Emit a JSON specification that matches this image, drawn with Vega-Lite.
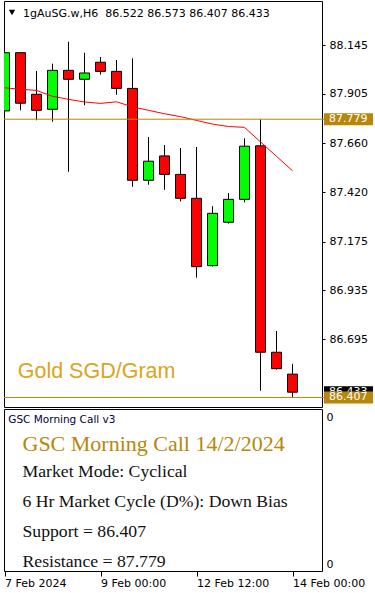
{
  "$schema": "https://vega.github.io/schema/vega-lite/v6.json",
  "padding": {"left": 3, "top": 0, "right": 0, "bottom": 0},
  "background": "white",
  "spacing": 0,
  "config": {
    "view": {"stroke": "black", "strokeWidth": 1},
    "axis": {"labelFont": "DejaVu Sans", "labelFontSize": 11, "labelColor": "black", "tickColor": "black", "domain": false, "grid": false}
  },
  "datasets": {
    "candles": [
      {"i": 0, "time": "2024-02-07 12:00", "open": 87.820, "high": 88.249, "low": 87.700, "close": 88.107, "ma": 87.934},
      {"i": 1, "time": "2024-02-07 18:00", "open": 88.107, "high": 88.110, "low": 87.823, "close": 87.858, "ma": 87.927},
      {"i": 2, "time": "2024-02-08 00:00", "open": 87.902, "high": 88.017, "low": 87.774, "close": 87.823, "ma": 87.921},
      {"i": 3, "time": "2024-02-08 06:00", "open": 87.828, "high": 88.053, "low": 87.767, "close": 88.020, "ma": 87.892},
      {"i": 4, "time": "2024-02-08 12:00", "open": 88.020, "high": 88.161, "low": 87.520, "close": 87.976, "ma": 87.877},
      {"i": 5, "time": "2024-02-08 18:00", "open": 87.976, "high": 88.107, "low": 87.848, "close": 88.007, "ma": 87.864},
      {"i": 6, "time": "2024-02-09 00:00", "open": 88.060, "high": 88.086, "low": 87.999, "close": 88.015, "ma": 87.857},
      {"i": 7, "time": "2024-02-09 06:00", "open": 88.015, "high": 88.071, "low": 87.900, "close": 87.931, "ma": 87.865},
      {"i": 8, "time": "2024-02-09 12:00", "open": 87.931, "high": 88.079, "low": 87.446, "close": 87.478, "ma": 87.840},
      {"i": 9, "time": "2024-02-09 18:00", "open": 87.478, "high": 87.691, "low": 87.456, "close": 87.572, "ma": 87.823},
      {"i": 10, "time": "2024-02-12 00:00", "open": 87.598, "high": 87.652, "low": 87.431, "close": 87.507, "ma": 87.806},
      {"i": 11, "time": "2024-02-12 06:00", "open": 87.507, "high": 87.637, "low": 87.374, "close": 87.389, "ma": 87.792},
      {"i": 12, "time": "2024-02-12 12:00", "open": 87.389, "high": 87.642, "low": 86.998, "close": 87.052, "ma": 87.773},
      {"i": 13, "time": "2024-02-12 18:00", "open": 87.057, "high": 87.350, "low": 87.052, "close": 87.315, "ma": 87.755},
      {"i": 14, "time": "2024-02-13 00:00", "open": 87.271, "high": 87.415, "low": 87.264, "close": 87.384, "ma": 87.743},
      {"i": 15, "time": "2024-02-13 06:00", "open": 87.384, "high": 87.685, "low": 87.369, "close": 87.646, "ma": 87.739},
      {"i": 16, "time": "2024-02-13 12:00", "open": 87.648, "high": 87.779, "low": 86.440, "close": 86.630, "ma": 87.667},
      {"i": 17, "time": "2024-02-13 18:00", "open": 86.630, "high": 86.735, "low": 86.544, "close": 86.549, "ma": 87.596},
      {"i": 18, "time": "2024-02-14 00:00", "open": 86.522, "high": 86.573, "low": 86.407, "close": 86.433, "ma": 87.525}
    ],
    "levels": [
      {"name": "Last", "price": 86.433},
      {"name": "Resistance", "price": 87.779},
      {"name": "Support", "price": 86.407}
    ],
    "notes": [
      {"id": "symbol", "text": "1gAuSG.w,H6\u00a0 86.522 86.573 86.407 86.433"},
      {"id": "asset", "text": "Gold SGD/Gram"},
      {"id": "indicator", "text": "GSC Morning Call v3"},
      {"id": "title", "text": "GSC Morning Call 14/2/2024"},
      {"id": "mode", "text": "Market Mode: Cyclical"},
      {"id": "cycle", "text": "6 Hr Market Cycle (D%): Down Bias"},
      {"id": "support", "text": "Support = 86.407"},
      {"id": "resistance", "text": "Resistance = 87.779"}
    ]
  },
  "vconcat": [
    {
      "width": 318,
      "height": 406,
      "layer": [
        {
          "data": {"name": "candles"},
          "mark": {"type": "rule", "color": "black", "strokeWidth": 1, "clip": true},
          "encoding": {
            "x": {"field": "i", "type": "quantitative", "scale": {"domain": [-0.03125, 19.84375], "nice": false, "zero": false, "padding": 0}, "axis": null},
            "y": {"field": "low", "type": "quantitative", "scale": {"domain": [86.36, 88.362], "nice": false, "zero": false, "padding": 0},
                  "axis": {"orient": "right", "title": null, "values": [88.145, 87.905, 87.66, 87.42, 87.175, 86.935, 86.695], "format": ".3f", "tickSize": 3, "labelPadding": 4, "labelBaseline": "middle"}},
            "y2": {"field": "high"}
          }
        },
        {
          "data": {"name": "candles"},
          "mark": {"type": "bar", "stroke": "black", "strokeWidth": 1, "clip": true},
          "encoding": {
            "x": {"field": "i", "type": "quantitative"},
            "y": {"field": "open", "type": "quantitative"},
            "y2": {"field": "close"},
            "size": {"value": 10},
            "fill": {"condition": {"test": "datum.close > datum.open", "value": "#00ff00"}, "value": "#ff0000"}
          }
        },
        {
          "data": {"name": "candles"},
          "mark": {"type": "line", "color": "#ff0000", "strokeWidth": 1, "clip": true},
          "encoding": {
            "x": {"field": "i", "type": "quantitative"},
            "y": {"field": "ma", "type": "quantitative"}
          }
        },
        {
          "data": {"name": "levels"},
          "transform": [{"filter": "datum.name != 'Last'"}],
          "mark": {"type": "rule", "color": "#b8860b", "strokeWidth": 1},
          "encoding": {
            "y": {"field": "price", "type": "quantitative"},
            "x": {"datum": -0.03125, "type": "quantitative"},
            "x2": {"datum": 19.97}
          }
        },
        {
          "data": {"name": "levels"},
          "transform": [{"filter": "datum.name == 'Last'"}],
          "mark": {"type": "bar", "fill": "black"},
          "encoding": {
            "y": {"field": "price", "type": "quantitative"},
            "x": {"datum": 19.969, "type": "quantitative"},
            "x2": {"datum": 23.03},
            "size": {"value": 12}
          }
        },
        {
          "data": {"name": "levels"},
          "transform": [{"filter": "datum.name == 'Last'"}],
          "mark": {"type": "text", "align": "left", "baseline": "middle", "dx": 5, "font": "DejaVu Sans", "fontSize": 11, "color": "white"},
          "encoding": {
            "y": {"field": "price", "type": "quantitative"},
            "x": {"datum": 19.969, "type": "quantitative"},
            "text": {"field": "price", "type": "quantitative", "format": ".3f"}
          }
        },
        {
          "data": {"name": "levels"},
          "transform": [{"filter": "datum.name != 'Last'"}],
          "mark": {"type": "bar", "fill": "#b8860b"},
          "encoding": {
            "y": {"field": "price", "type": "quantitative"},
            "x": {"datum": 19.969, "type": "quantitative"},
            "x2": {"datum": 23.03},
            "size": {"value": 12}
          }
        },
        {
          "data": {"name": "levels"},
          "transform": [{"filter": "datum.name != 'Last'"}],
          "mark": {"type": "text", "align": "left", "baseline": "middle", "dx": 5, "font": "DejaVu Sans", "fontSize": 11, "color": "white"},
          "encoding": {
            "y": {"field": "price", "type": "quantitative"},
            "x": {"datum": 19.969, "type": "quantitative"},
            "text": {"field": "price", "type": "quantitative", "format": ".3f"}
          }
        },
        {
          "data": {"name": "notes"},
          "transform": [{"filter": "datum.id == 'symbol'"}],
          "mark": {"type": "point", "shape": "triangle-down", "filled": true, "color": "black", "size": 40, "opacity": 1},
          "encoding": {
            "x": {"datum": 0.469, "type": "quantitative"},
            "y": {"datum": 88.305, "type": "quantitative"}
          }
        },
        {
          "data": {"name": "notes"},
          "transform": [{"filter": "datum.id == 'symbol'"}],
          "mark": {"type": "text", "align": "left", "baseline": "alphabetic", "font": "DejaVu Sans", "fontSize": 11, "color": "black"},
          "encoding": {
            "x": {"datum": 1.156, "type": "quantitative"},
            "y": {"datum": 88.283, "type": "quantitative"},
            "text": {"field": "text"}
          }
        },
        {
          "data": {"name": "notes"},
          "transform": [{"filter": "datum.id == 'asset'"}],
          "mark": {"type": "text", "align": "left", "baseline": "alphabetic", "font": "Liberation Sans", "fontSize": 21.5, "color": "#daa520"},
          "encoding": {
            "x": {"datum": 0.825, "type": "quantitative"},
            "y": {"datum": 86.503, "type": "quantitative"},
            "text": {"field": "text"}
          }
        }
      ]
    },
    {
      "width": 318,
      "height": 162,
      "layer": [
        {
          "data": {"name": "notes"},
          "transform": [{"filter": "datum.id == 'indicator'"}],
          "mark": {"type": "text", "align": "left", "baseline": "alphabetic", "font": "DejaVu Sans", "fontSize": 10.5, "color": "#000040"},
          "encoding": {
            "x": {"datum": 0.238, "type": "quantitative", "scale": {"domain": [-0.03125, 19.84375], "nice": false, "zero": false, "padding": 0},
                  "axis": {"title": null, "values": [0, 6, 12, 18], "labelExpr": "datum.value == 0 ? '7 Feb 2024' : datum.value == 6 ? '9 Feb 00:00' : datum.value == 12 ? '12 Feb 12:00' : '14 Feb 00:00'", "labelAlign": "left", "labelFlush": false, "tickSize": 5, "labelPadding": 1}},
            "y": {"datum": 0.912, "type": "quantitative", "scale": {"domain": [0, 1], "nice": false, "zero": false, "padding": 0},
                  "axis": {"orient": "right", "title": null, "values": [0.9475, 0.038], "labelExpr": "'0'", "ticks": false, "labelPadding": 4, "labelBaseline": "middle"}},
            "text": {"field": "text"}
          }
        },
        {
          "data": {"name": "notes"},
          "transform": [{"filter": "datum.id == 'title'"}],
          "mark": {"type": "text", "align": "left", "baseline": "alphabetic", "font": "Liberation Serif", "fontSize": 22, "color": "#b8860b"},
          "encoding": {
            "x": {"datum": 1.125, "type": "quantitative"},
            "y": {"datum": 0.743, "type": "quantitative"},
            "text": {"field": "text"}
          }
        },
        {
          "data": {"name": "notes"},
          "transform": [{"filter": "datum.id == 'mode'"}],
          "mark": {"type": "text", "align": "left", "baseline": "alphabetic", "font": "Liberation Serif", "fontSize": 17.7, "color": "#111111"},
          "encoding": {
            "x": {"datum": 1.125, "type": "quantitative"},
            "y": {"datum": 0.582, "type": "quantitative"},
            "text": {"field": "text"}
          }
        },
        {
          "data": {"name": "notes"},
          "transform": [{"filter": "datum.id == 'cycle'"}],
          "mark": {"type": "text", "align": "left", "baseline": "alphabetic", "font": "Liberation Serif", "fontSize": 17.7, "color": "#111111"},
          "encoding": {
            "x": {"datum": 1.125, "type": "quantitative"},
            "y": {"datum": 0.397, "type": "quantitative"},
            "text": {"field": "text"}
          }
        },
        {
          "data": {"name": "notes"},
          "transform": [{"filter": "datum.id == 'support'"}],
          "mark": {"type": "text", "align": "left", "baseline": "alphabetic", "font": "Liberation Serif", "fontSize": 17.7, "color": "#111111"},
          "encoding": {
            "x": {"datum": 1.125, "type": "quantitative"},
            "y": {"datum": 0.212, "type": "quantitative"},
            "text": {"field": "text"}
          }
        },
        {
          "data": {"name": "notes"},
          "transform": [{"filter": "datum.id == 'resistance'"}],
          "mark": {"type": "text", "align": "left", "baseline": "alphabetic", "font": "Liberation Serif", "fontSize": 17.7, "color": "#111111"},
          "encoding": {
            "x": {"datum": 1.125, "type": "quantitative"},
            "y": {"datum": 0.0265, "type": "quantitative"},
            "text": {"field": "text"}
          }
        }
      ]
    }
  ]
}
